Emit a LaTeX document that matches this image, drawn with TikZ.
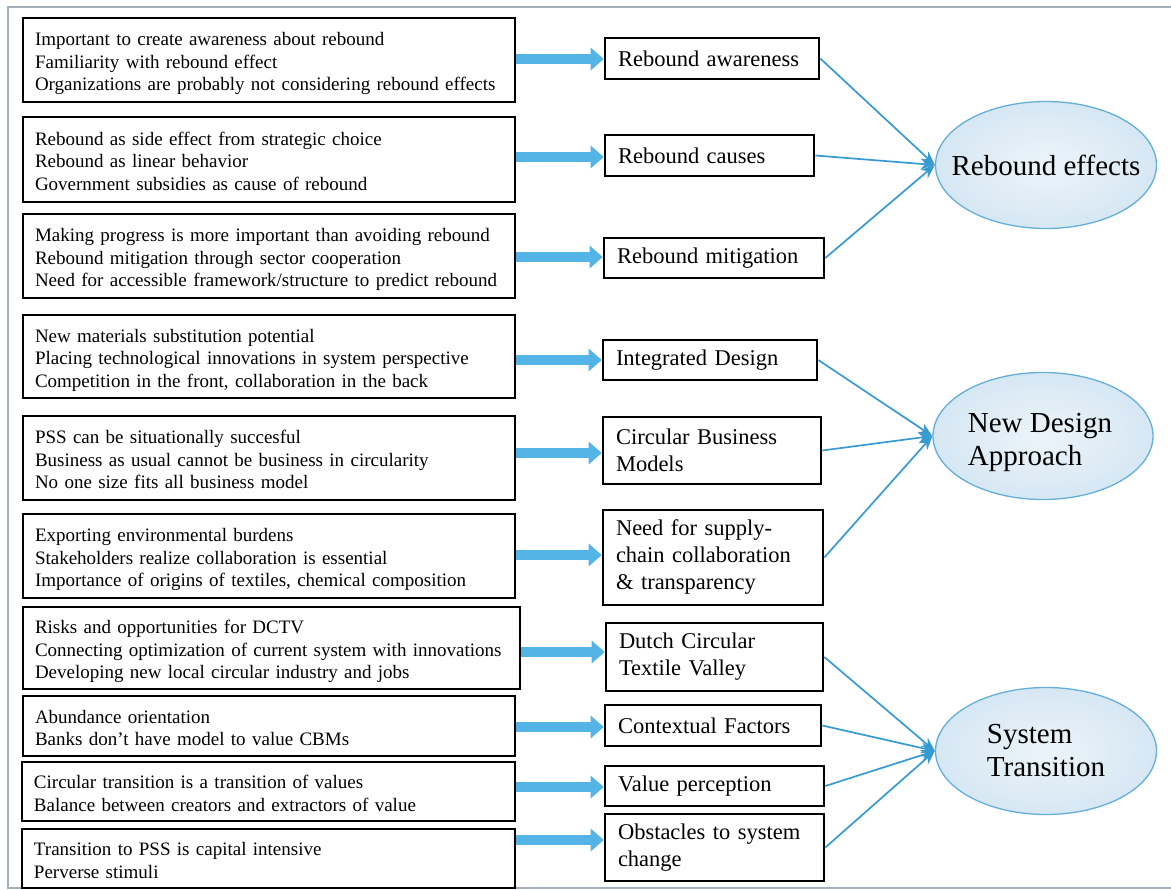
\documentclass[tikz,border=0pt]{standalone}
\usepackage{fontspec}
\setmainfont{Liberation Serif}
\usetikzlibrary{arrows.meta,shapes.geometric}
\definecolor{blockblue}{RGB}{84,180,230}
\definecolor{linkblue}{RGB}{55,155,210}
\definecolor{ellin}{RGB}{236,244,250}
\definecolor{ellout}{RGB}{214,231,243}
\definecolor{elldraw}{RGB}{100,175,215}
\definecolor{framegrey}{RGB}{165,175,188}
\newcommand{\lines}[1]{\raisebox{-4pt}[\height][\depth]{\begin{tabular}{@{}l@{}}#1\end{tabular}}}
\tikzset{
  lbox/.style={draw=black, line width=2.6pt, inner xsep=12pt, inner ysep=0pt, align=left,
    font=\fontsize{19}{22.5}\selectfont},
  mbox/.style={draw=black, line width=2.6pt, inner xsep=13pt, inner ysep=0pt, align=left,
    font=\fontsize{22.5}{27}\selectfont},
  ell/.style={ellipse, draw=elldraw, inner color=ellin, outer color=ellout, line width=1.3pt, inner sep=0pt},
  elltext/.style={font=\fontsize{29}{33}\selectfont, align=left},
  blockarrow/.style={draw=blockblue, line width=10pt, -{Triangle[length=13pt,width=22pt]}},
  link/.style={draw=linkblue, line width=1.7pt, -{Stealth[length=14pt,width=11pt]}}
}
\begin{document}
\begin{tikzpicture}[x=1pt,y=-1pt]
\useasboundingbox (0,0) rectangle (1171,890);
\fill[white] (0,0) rectangle (1171,890);
\draw[framegrey, line width=2.4pt] (8,7) rectangle (1190,888);

% left boxes
\node[lbox, text width=468pt, minimum height=84pt] (L1) at (269,60) {\lines{Important to create awareness about rebound\\Familiarity with rebound effect\\Organizations are probably not considering rebound effects}};
\node[lbox, text width=468pt, minimum height=85pt] (L2) at (269,159.5) {\lines{Rebound as side effect from strategic choice\\Rebound as linear behavior\\Government subsidies as cause of rebound}};
\node[lbox, text width=468pt, minimum height=84pt] (L3) at (269,256) {\lines{Making progress is more important than avoiding rebound\\Rebound mitigation through sector cooperation\\Need for accessible framework/structure to predict rebound}};
\node[lbox, text width=468pt, minimum height=83pt] (L4) at (269,356.5) {\lines{New materials substitution potential\\Placing technological innovations in system perspective\\Competition in the front, collaboration in the back}};
\node[lbox, text width=468pt, minimum height=84pt] (L5) at (269,458) {\lines{PSS can be situationally succesful\\Business as usual cannot be business in circularity\\No one size fits all business model}};
\node[lbox, text width=468pt, minimum height=84pt] (L6) at (269,556) {\lines{Exporting environmental burdens\\Stakeholders realize collaboration is essential\\Importance of origins of textiles, chemical composition}};
\node[lbox, text width=473pt, minimum height=82pt] (L7) at (271.5,648) {\lines{Risks and opportunities for DCTV\\Connecting optimization of current system with innovations\\Developing new local circular industry and jobs}};
\node[lbox, text width=468pt, minimum height=60pt] (L8) at (269,726) {\lines{Abundance orientation\\Banks don’t have model to value CBMs}};
\node[lbox, text width=469pt, minimum height=59pt] (L9) at (268.5,791.5) {\lines{Circular transition is a transition of values\\Balance between creators and extractors of value}};
\node[lbox, text width=469pt, minimum height=59pt] (L10) at (268.5,858.5) {\lines{Transition to PSS is capital intensive\\Perverse stimuli}};

% middle boxes
\node[mbox, text width=188pt, minimum height=41pt] (M1) at (712,58.5) {Rebound awareness};
\node[mbox, text width=183pt, minimum height=41pt] (M2) at (709.5,155.5) {Rebound causes};
\node[mbox, text width=194pt, minimum height=40pt] (M3) at (714,258) {Rebound mitigation};
\node[mbox, text width=188pt, minimum height=40pt] (M4) at (710,360) {Integrated Design};
\node[mbox, text width=192pt, minimum height=67pt] (M5) at (712,450.5) {Circular Business\\Models};
\node[mbox, text width=194pt, minimum height=95pt] (M6) at (713,557.5) {Need for supply-\\chain collaboration\\\& transparency};
\node[mbox, text width=191pt, minimum height=68pt] (M7) at (714.5,657) {Dutch Circular\\Textile Valley};
\node[mbox, text width=190pt, minimum height=41pt] (M8) at (713,725.5) {Contextual Factors};
\node[mbox, text width=193pt, minimum height=40pt] (M9) at (714.5,786) {Value perception};
\node[mbox, text width=193pt, minimum height=67pt] (M10) at (714.5,847.5) {Obstacles to system\\change};

% ellipses
\node[ell, minimum width=221pt, minimum height=127pt, label={[elltext]center:Rebound effects}] (E1) at (1046,165) {};
\node[ell, minimum width=220pt, minimum height=127pt, label={[elltext, yshift=-6pt, xshift=-3pt]center:New Design\\Approach}] (E2) at (1043,436) {};
\node[ell, minimum width=221pt, minimum height=127pt, label={[elltext]center:System\\Transition}] (E3) at (1046,751) {};

% block arrows
\draw[blockarrow] (L1.east |- 0,59) -- (M1.west |- 0,59);
\draw[blockarrow] (L2.east |- 0,157) -- (M2.west |- 0,157);
\draw[blockarrow] (L3.east |- 0,257) -- (M3.west |- 0,257);
\draw[blockarrow] (L4.east |- 0,360) -- (M4.west |- 0,360);
\draw[blockarrow] (L5.east |- 0,453) -- (M5.west |- 0,453);
\draw[blockarrow] (L6.east |- 0,555) -- (M6.west |- 0,555);
\draw[blockarrow] (L7.east |- 0,652) -- (M7.west |- 0,652);
\draw[blockarrow] (L8.east |- 0,727) -- (M8.west |- 0,727);
\draw[blockarrow] (L9.east |- 0,787) -- (M9.west |- 0,787);
\draw[blockarrow] (L10.east |- 0,840) -- (M10.west |- 0,840);

% links
\draw[link] (M1.east) -- (E1.west);
\draw[link] (M2.east) -- (E1.west);
\draw[link] (M3.east) -- (E1.west);
\draw[link] (M4.east) -- (E2.west);
\draw[link] (M5.east) -- (E2.west);
\draw[link] (M6.east) -- (E2.west);
\draw[link] (M7.east) -- (E3.west);
\draw[link] (M8.east) -- (E3.west);
\draw[link] (M9.east) -- (E3.west);
\draw[link] (M10.east) -- (E3.west);
\end{tikzpicture}
\end{document}
